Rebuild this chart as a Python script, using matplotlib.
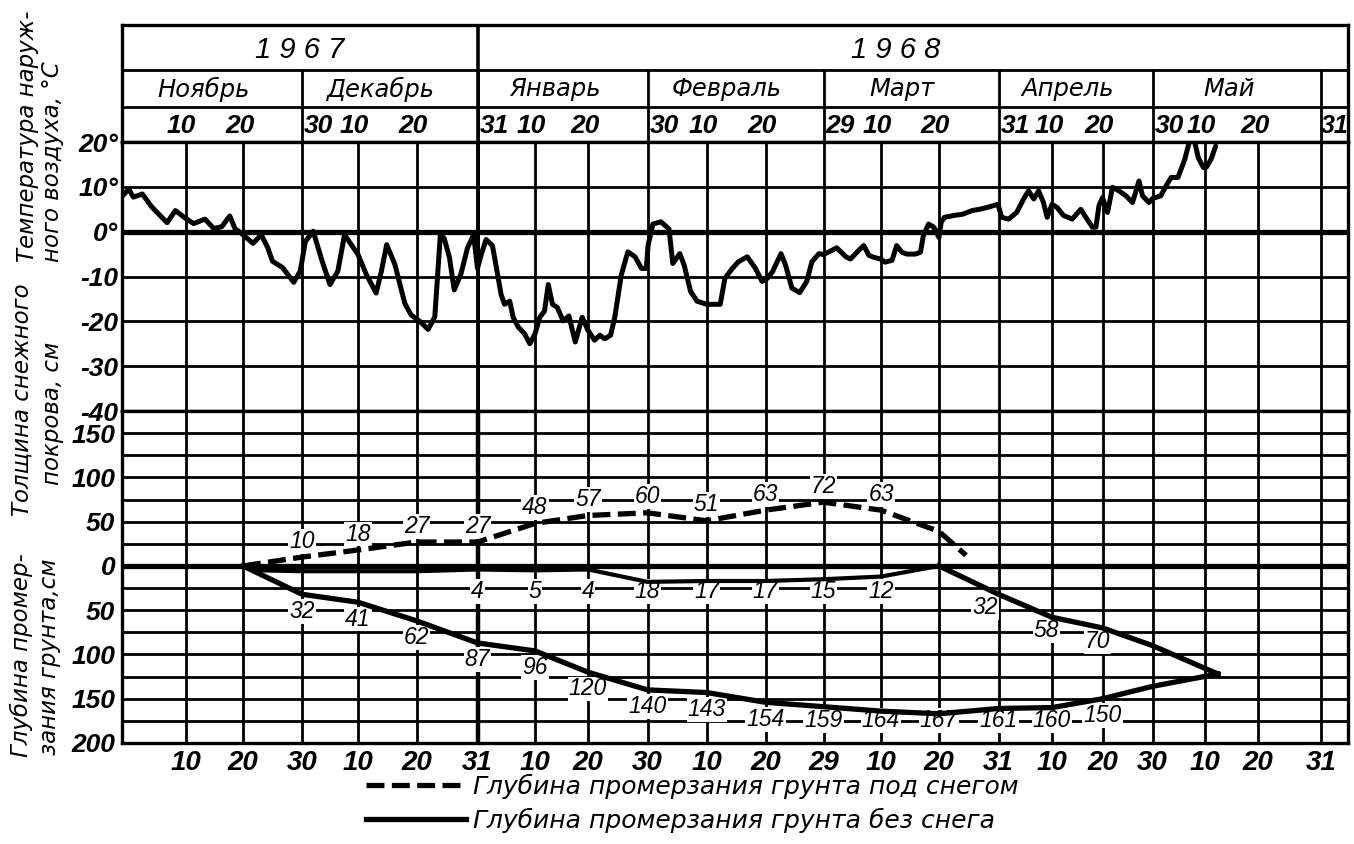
import numpy as np
import matplotlib
matplotlib.use("Agg")
import matplotlib.pyplot as plt

# ---------------- data ----------------
# day numbers are counted from 31 Oct 1967 (day 1 = 1 Nov 1967, day 61 = 31 Dec 1967)
TEMP_DAY = [0.1, 1.05, 1.8, 3.2, 4.7, 7.1, 8.4, 10, 11.4, 13.4, 14.9, 16.3, 17.7, 18.6,
            20, 21.7, 23.1, 24.2, 25, 26.7, 28.6, 29.7, 30.6, 32, 33.6, 35, 36.4, 37.6,
            40, 41.4, 43.1, 44, 44.9, 46.3, 48, 49.1, 50.6, 52.1, 53.3, 54.3, 55, 55.95,
            56.8, 58, 59.2, 60.3, 61, 61.6, 62.5, 63.6, 64.2, 65.1, 65.7, 66.6, 67.2, 68.1,
            69.2, 70.1, 71, 71.9, 72.8, 73.5, 74.3, 75.2, 76.3, 77.4, 78.6, 79.9, 81, 82.1,
            83, 83.8, 84.8, 85.5, 86.6, 87.7, 88.9, 90, 90.8, 91.1, 92, 93.5, 95, 95.7, 97,
            97.8, 99, 100.2, 102, 104.3, 105.1, 106.3, 107.4, 108.9, 110.3, 111.4, 112.3,
            113.1, 114.4, 115.1, 116.1, 117.3, 118.4, 119.2, 120.3, 121, 122.1, 123.3, 124.9,
            125.7, 127.1, 128, 128.9, 129.7, 130.9, 131.7, 132.9, 133.7, 134.6, 135.5, 136.9,
            137.8, 138.3, 139.2, 140.1, 141, 141.4, 142, 143.7, 145.4, 147.1, 148.5, 149.9,
            151.9, 152.6, 153.9, 155.4, 156.7, 157.6, 158.6, 159.5, 160.4, 161.1, 162, 163,
            164.3, 166, 167.7, 168.7, 170, 170.7, 171.3, 172, 173, 174, 175.3, 176.7, 178,
            179.3, 180, 181.3, 182, 183.6, 184.6, 185.6, 186.9, 188.2, 189.2, 190, 190.8,
            191.8, 192.3, 193.2, 194.1]
TEMP_C = [8.0, 9.5, 7.7, 8.4, 5.5, 2.0, 4.7, 3.0, 1.8, 2.8, 0.7, 1.1, 3.5, 0.7,
          -0.7, -2.6, -0.7, -3.6, -6.6, -8.0, -11.3, -8.8, -2.2, 0.1, -6.6, -11.8, -8.8, -0.7,
          -5.1, -9.5, -13.7, -8.8, -2.9, -7.3, -16.0, -18.6, -20.0, -21.8, -19.0, -0.7, -1.5, -5.8,
          -13.0, -9.5, -3.6, -0.7, -8.2, -5.3, -1.75, -3.1, -7.4, -14.0, -16.2, -15.5, -19.1, -21.3,
          -22.8, -25.0, -22.8, -19.1, -17.7, -11.8, -16.2, -16.9, -19.9, -18.8, -24.6, -19.1, -22.0, -24.2,
          -23.1, -23.9, -23.1, -19.1, -9.6, -4.5, -5.6, -8.2, -8.2, -3.1, 1.7, 2.2, 0.6, -7.1, -4.9,
          -7.4, -13.3, -15.5, -16.2, -16.2, -10.4, -8.3, -6.7, -5.6, -8.2, -11.1, -10.4,
          -8.9, -4.9, -7.4, -12.6, -13.6, -11.1, -6.7, -4.9, -5.1, -4.4, -3.6, -5.6,
          -6.1, -4.2, -3.1, -5.3, -5.7, -6.1, -6.8, -6.4, -3.1, -4.6, -5.0, -5.0,
          -4.6, -0.9, 1.7, 1.0, -1.3, 2.1, 3.2, 3.6, 3.9, 4.7, 5.0, 5.4,
          6.1, 3.2, 2.8, 4.3, 7.3, 9.1, 7.3, 9.1, 6.5, 3.2, 6.1, 5.4,
          3.6, 2.8, 5.0, 3.2, 1.0, 1.0, 5.8, 7.6, 4.3, 9.9, 9.1, 8.0, 6.5,
          11.3, 8.0, 6.5, 7.4, 8.0, 10.2, 12.1, 12.1, 16.1, 20.6, 20.6, 16.5,
          14.3, 14.3, 16.1, 19.1]

# snow cover thickness, cm (dashed line); labelled values are the ones printed on the chart
SNOW_DAY = [20, 30, 40, 50, 61, 71, 81, 91, 102, 112, 121, 131, 141, 146]
SNOW_CM = [0, 10, 18, 27, 27, 48, 57, 60, 51, 63, 72, 63, 39, 12]
SNOW_LABELLED = [False, True, True, True, True, True, True, True, True, True, True, True, False, False]

# frost depth under snow, cm (upper solid line)
FROST_SNOW_DAY = [20, 23, 30, 40, 50, 61, 71, 81, 91, 102, 112, 121, 131, 141]
FROST_SNOW_CM = [0, 5, 6, 6, 6, 4, 5, 4, 18, 17, 17, 15, 12, 0]
FROST_SNOW_LABELLED = [False, False, False, False, False, True, True, True, True, True, True, True, True, False]

# frost depth without snow, cm (lower solid line)
FROST_BARE_DAY = [20, 30, 40, 50, 61, 71, 81, 91, 102, 112, 121, 131, 141, 152, 162, 172, 182, 194.5]
FROST_BARE_CM = [0, 32, 41, 62, 87, 96, 120, 140, 143, 154, 159, 164, 167, 161, 160, 150, 136, 122]
FROST_BARE_LABELLED = [False] + [True] * 15 + [False, False]

# thaw depth from the surface after snow melt, cm
THAW_DAY = [141, 152, 162, 172, 182, 194.5]
THAW_CM = [0, 32, 58, 70, 90, 122]
THAW_LABELLED = [False, True, True, True, False, False]

# calendar
GRID_DAY = [10, 20, 30, 40, 50, 61, 71, 81, 91, 102, 112, 121, 131, 141, 152, 162, 172,
            182, 192, 202, 213]
GRID_LABEL = ['10', '20', '30', '10', '20', '31', '10', '20', '30', '10', '20', '29', '10',
              '20', '31', '10', '20', '30', '10', '20', '31']
MONTHS = ['Ноябрь', 'Декабрь', 'Январь', 'Февраль', 'Март', 'Апрель', 'Май']
MONTH_END = [30, 61, 91, 121, 152, 182, 213]
YEARS = ['1 9 6 7', '1 9 6 8']
YEAR_END = 61
X_END = 217.7

TEMP_TICKS = [-40, -30, -20, -10, 0, 10, 20]
TEMP_TICKLABELS = ['-40', '-30', '-20', '-10', '0°', '10°', '20°']
DEPTH_TICKS = [-200, -150, -100, -50, 0, 50, 100, 150]
DEPTH_TICKLABELS = ['200', '150', '100', '50', '0', '50', '100', '150']

# ---------------- layout (hand-drawn, non-uniform day grid) ----------------
W, H = 1354, 844
SCALE_DAY = [0] + GRID_DAY + [X_END]
SCALE_POS = [122, 185.5, 243, 302, 358, 416.5, 477.5, 535, 588, 647.5, 706.7, 765.5,
             823.5, 881, 939, 998.5, 1052, 1102.5, 1152.5, 1204.5, 1258, 1321, 1348]


def fwd(x):
    return np.interp(x, SCALE_DAY, SCALE_POS)


def inv(p):
    return np.interp(p, SCALE_POS, SCALE_DAY)


def box(x0, y0, x1, y1):
    return [x0 / W, 1 - y1 / H, (x1 - x0) / W, (y1 - y0) / H]


NUM = dict(fontfamily=['Liberation Sans', 'DejaVu Sans'], fontstyle='italic',
           fontweight='bold')
TXT = dict(fontfamily=['DejaVu Sans'], fontstyle='italic')
GLW = 2.0
K = 'black'
NUMSIZE = 19

fig = plt.figure(figsize=(W / 100, H / 100), dpi=100)
fig.patch.set_facecolor('white')

ax_h = fig.add_axes(box(122, 25, 1348, 142))
ax_t = fig.add_axes(box(122, 142, 1348, 411), sharex=ax_h)
ax_s = fig.add_axes(box(122, 411, 1348, 743), sharex=ax_h)
ax_h.set_xscale('function', functions=(fwd, inv))
ax_h.set_xlim(0, X_END)

for ax in (ax_h, ax_t, ax_s):
    for sp in ax.spines.values():
        sp.set_linewidth(2.4)
        sp.set_color(K)
    ax.tick_params(length=0)

# ---- header table ----
ax_h.set_ylim(0, 117)
ax_h.set_yticks([])
ax_h.tick_params(labelbottom=False)
ax_h.axhline(35, color=K, lw=GLW)
ax_h.axhline(72, color=K, lw=GLW)
ax_h.vlines(MONTH_END, 0, 72, color=K, lw=GLW)
ax_h.vlines([YEAR_END], 0, 117, color=K, lw=2.6)
YEARFONT = dict(fontfamily=['Liberation Sans', 'DejaVu Sans'], fontstyle='italic', fontsize=21)
ax_h.text(inv((fwd(0) + fwd(YEAR_END)) / 2), 92, YEARS[0], ha='center', va='center', **YEARFONT)
ax_h.text(inv((fwd(YEAR_END) + fwd(X_END)) / 2) - 3, 92, YEARS[1], ha='center', va='center',
          **YEARFONT)
starts = [0] + MONTH_END[:-1]
for name, a, b in zip(MONTHS, starts, MONTH_END):
    ax_h.text(inv((fwd(a) + fwd(b)) / 2) - 1.5, 53, name, ha='center', va='center',
              fontsize=17.5, **TXT)
for d, lab in zip(GRID_DAY, GRID_LABEL):
    if d == MONTH_END[-1]:
        ax_h.text((d + X_END) / 2, 16, lab, ha='center', va='center', fontsize=NUMSIZE - 1, **NUM)
    elif d in MONTH_END:
        ax_h.text(d + 0.4, 16, lab, ha='left', va='center', fontsize=NUMSIZE, **NUM)
    else:
        ax_h.text(d - 0.6, 16, lab, ha='center', va='center', fontsize=NUMSIZE, **NUM)

# ---- temperature panel ----
ax_t.set_ylim(-40, 20)
ax_t.set_yticks(TEMP_TICKS)
ax_t.set_yticklabels(TEMP_TICKLABELS, fontsize=NUMSIZE, **NUM)
ax_t.tick_params(labelbottom=False, pad=3)
ax_t.hlines([-30, -20, -10, 10], 0, X_END, color=K, lw=GLW, zorder=1)
ax_t.axhline(0, color=K, lw=3.8, zorder=1)
ax_t.vlines(GRID_DAY, -40, 20, color=K, lw=GLW, zorder=1)
ax_t.vlines([YEAR_END], -40, 20, color=K, lw=2.8, zorder=1)
ax_t.plot(TEMP_DAY, TEMP_C, color=K, lw=3.6, solid_joinstyle='round',
          solid_capstyle='round', zorder=3)

# ---- snow / frost panel ----
ax_s.set_ylim(-200, 175)
ax_s.set_yticks(DEPTH_TICKS)
ax_s.set_yticklabels(DEPTH_TICKLABELS, fontsize=NUMSIZE, **NUM)
ax_s.set_xticks(GRID_DAY)
ax_s.set_xticklabels(GRID_LABEL, fontsize=NUMSIZE + 1, **NUM)
ax_s.tick_params(pad=5)
ax_s.hlines([v for v in range(-175, 175, 25) if v != 0], 0, X_END, color=K, lw=GLW, zorder=1)
ax_s.axhline(0, color=K, lw=3.8, zorder=1)
ax_s.vlines(GRID_DAY, -200, 175, color=K, lw=GLW, zorder=1)
ax_s.vlines([YEAR_END], -200, 175, color=K, lw=3.2, zorder=1)

snow_line, = ax_s.plot(SNOW_DAY, SNOW_CM, color=K, lw=3.8, dashes=(3.4, 1.4), zorder=3,
                       label='Глубина промерзания грунта под снегом')
ax_s.plot(FROST_SNOW_DAY, -np.array(FROST_SNOW_CM), color=K, lw=3.0, zorder=3,
          solid_joinstyle='round')
bare_line, = ax_s.plot(FROST_BARE_DAY, -np.array(FROST_BARE_CM), color=K, lw=3.8, zorder=3,
                       solid_joinstyle='round',
                       label='Глубина промерзания грунта без снега')
ax_s.plot(THAW_DAY, -np.array(THAW_CM), color=K, lw=3.8, zorder=3, solid_joinstyle='round')

LBL = dict(ha='center', va='center', fontsize=16.5, zorder=2,
           bbox=dict(facecolor='white', edgecolor='none', pad=0.6),
           fontfamily=['Liberation Sans', 'DejaVu Sans'], fontstyle='italic')
for d, v, on in zip(SNOW_DAY, SNOW_CM, SNOW_LABELLED):
    if on:
        ax_s.text(d, v + 18, str(v), **LBL)
for d, v, on in zip(FROST_SNOW_DAY, FROST_SNOW_CM, FROST_SNOW_LABELLED):
    if on:
        ax_s.text(d, -29, str(v), **LBL)
for d, v, on in zip(FROST_BARE_DAY, FROST_BARE_CM, FROST_BARE_LABELLED):
    if on:
        ax_s.text(d, max(-(v + 19), -175), str(v), **LBL)
for i, (d, v, on) in enumerate(zip(THAW_DAY, THAW_CM, THAW_LABELLED)):
    if on:
        ax_s.text(d - (2.5 if i == 1 else 1.0), -(v + 15), str(v), **LBL)

# ---- axis titles (rotated, two lines each) ----
TT = dict(rotation=90, ha='center', fontsize=16.5, **TXT)
fig.text(28 / W, 1 - 262 / H, 'Температура наруж-', va='bottom', **TT)
fig.text(53 / W, 1 - 262 / H, 'ного воздуха, °С', va='bottom', **TT)
fig.text(22 / W, 1 - 400 / H, 'Толщина снежного', va='center', **TT)
fig.text(52 / W, 1 - 413 / H, 'покрова, см', va='center', **TT)
fig.text(21 / W, 1 - 757 / H, 'Глубина промер-', va='bottom', **TT)
fig.text(50 / W, 1 - 755 / H, 'зания грунта,см', va='bottom', **TT)

# ---- legend ----
fig.legend(handles=[snow_line, bare_line], loc='upper left',
           bbox_to_anchor=(366 / W, 1 - 774 / H), frameon=False, borderpad=0,
           borderaxespad=0, handlelength=4.0, handletextpad=0.3, labelspacing=0.35,
           prop=dict(family='DejaVu Sans', style='italic', size=18))

fig.savefig('out.png', dpi=100, facecolor='white')
